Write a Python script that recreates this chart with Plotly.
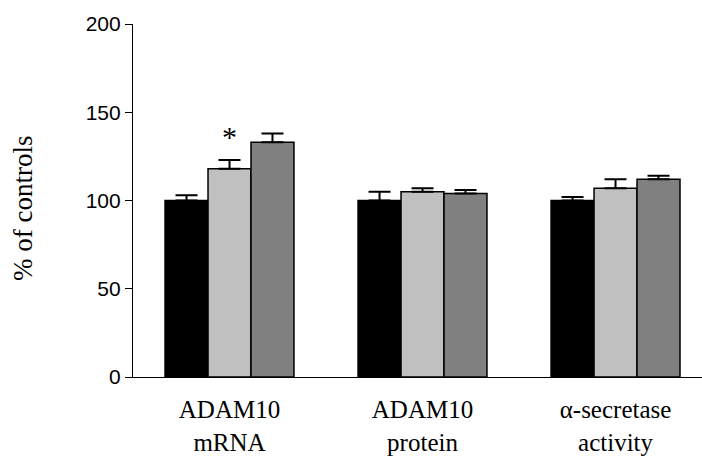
import plotly.graph_objects as go

categories = ["ADAM10<br>mRNA", "ADAM10<br>protein", "α-secretase<br>activity"]
series_names = ["Group A", "Group B", "Group C"]
values = [
    [100, 100, 100],
    [118, 105, 107],
    [133, 104, 112],
]
errors = [
    [3, 5, 2],
    [5, 2, 5],
    [5, 2, 2],
]
colors = ["#000000", "#C0C0C0", "#808080"]
y_ticks = [0, 50, 100, 150, 200]
star_value = 136

fig = go.Figure()
for name, vals, errs, col in zip(series_names, values, errors, colors):
    fig.add_trace(go.Bar(
        x=categories, y=vals, name=name,
        marker=dict(color=col, line=dict(color="black", width=1.5)),
        error_y=dict(type="data", array=errs, arrayminus=[0] * len(errs), symmetric=False,
                     color="black", thickness=2, width=11),
    ))

fig.add_annotation(x=categories[0], y=star_value, text="*", showarrow=False,
                   font=dict(family="Liberation Serif", size=30, color="black"),
                   xanchor="center", yanchor="middle")

fig.add_annotation(xref="paper", yref="paper", x=(23 - 133) / 569, y=(377 - 209) / 353,
                   text="% of controls", textangle=-90, showarrow=False,
                   xanchor="center", yanchor="middle",
                   font=dict(family="Liberation Serif", size=27, color="black"))

fig.update_layout(
    width=702, height=461,
    margin=dict(l=133, r=0, t=24, b=84),
    paper_bgcolor="white", plot_bgcolor="white",
    barmode="group", bargap=0.332, bargroupgap=0,
    showlegend=False,
    xaxis=dict(
        type="category", range=[-0.5, 2.448], automargin=False,
        showline=True, linecolor="black", linewidth=1.2,
        ticks="", showgrid=False, zeroline=False,
        ticklabelstandoff=10,
        tickfont=dict(family="Liberation Serif", size=25, color="black"),
    ),
    yaxis=dict(
        range=[0, 200], tickvals=y_ticks, automargin=False,
        showline=True, linecolor="black", linewidth=1.2,
        ticks="outside", ticklen=7, tickcolor="black", tickwidth=1.2,
        showgrid=False, zeroline=False,
        tickfont=dict(family="Liberation Sans", size=21, color="black"),
    ),
)

fig.write_html("out.html")
